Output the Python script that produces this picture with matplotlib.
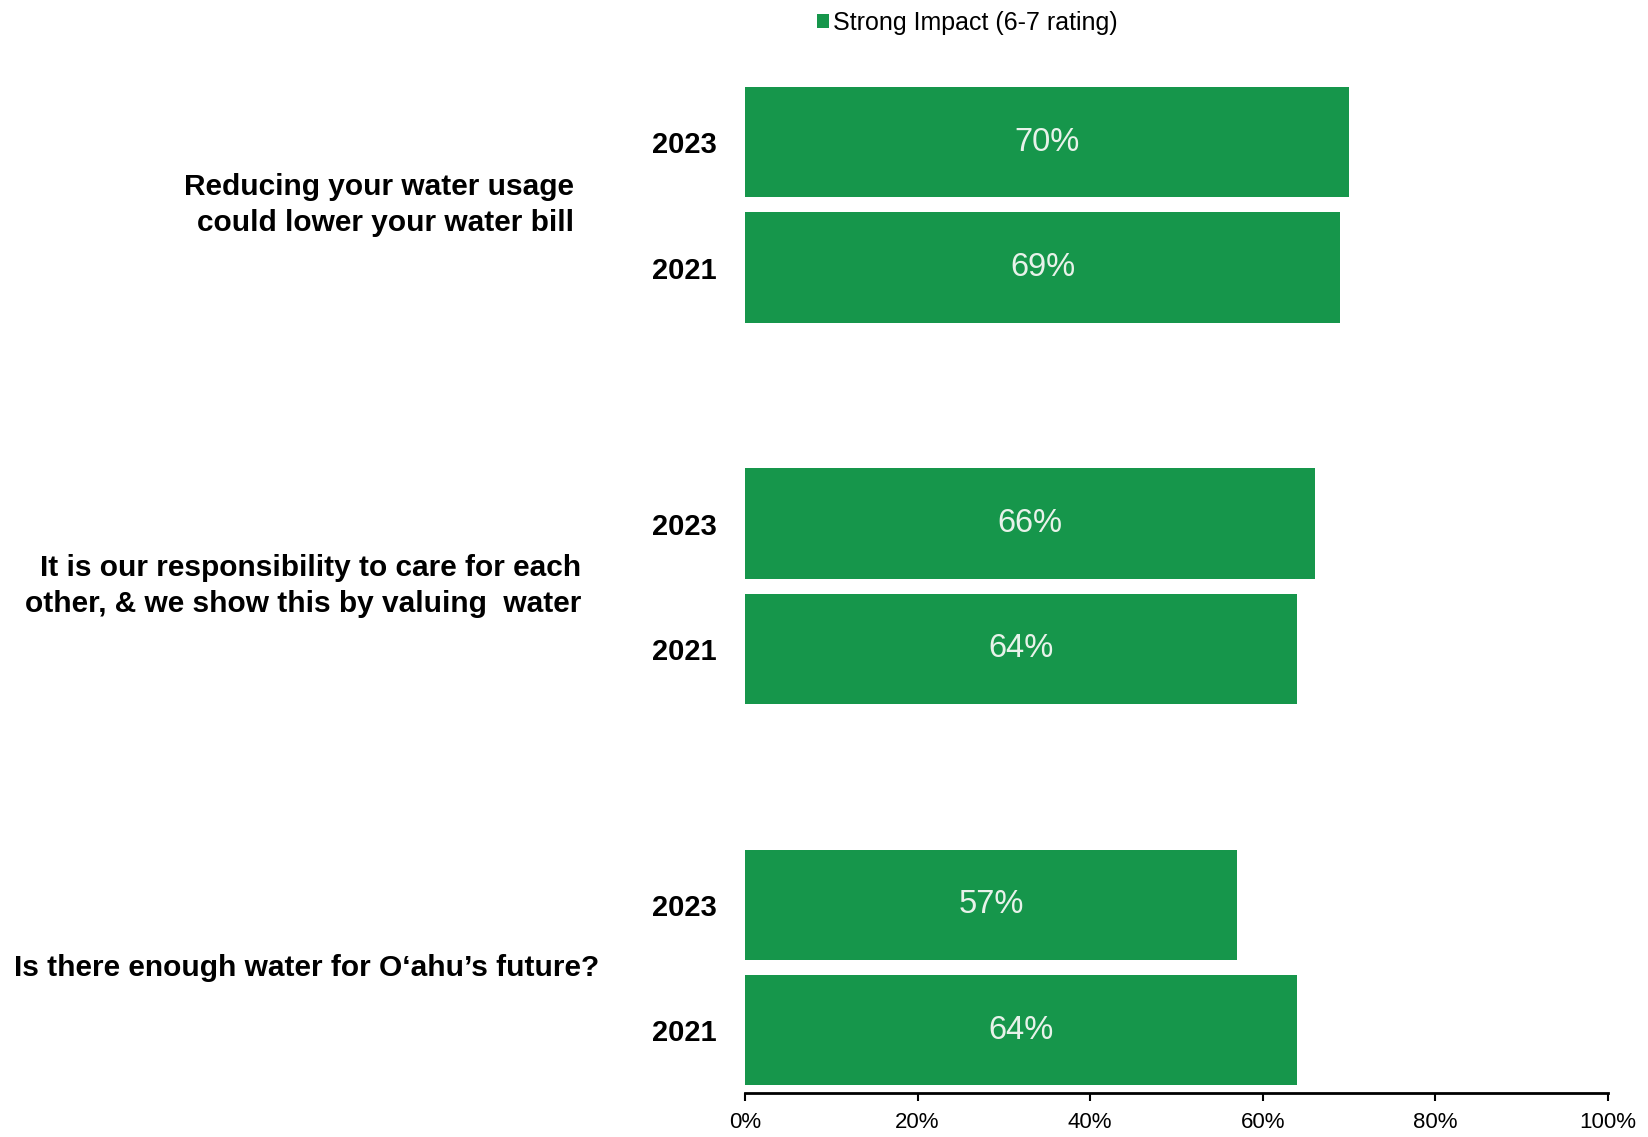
import matplotlib

matplotlib.use("Agg")

import matplotlib.pyplot as plt
import matplotlib.transforms as mtransforms
import numpy as np

plt.rcParams["font.family"] = ["Liberation Sans", "DejaVu Sans"]

statements = [
    "Reducing your water usage\ncould lower your water bill",
    "It is our responsibility to care for each\nother, & we show this by valuing  water",
    "Is there enough water for O\u2018ahu\u2019s future?",
]
years = ["2023", "2021"]
strong_2023 = [70, 66, 57]
strong_2021 = [69, 64, 64]
legend_label = "Strong Impact (6-7 rating)"
xticks = [0, 20, 40, 60, 80, 100]

# layout
green = "#16964b"
group_step = 3.04
label_right = [-0.198, -0.190, -0.169]  # right edge of each statement, axes coords

fig = plt.figure(figsize=(16.48, 11.37), dpi=100)
ax = fig.add_axes([0.452, 0.0387, 0.5237, 0.919])

base = np.arange(len(statements)) * group_step
pos_2023 = base
pos_2021 = base + 1.0

bars23 = ax.barh(pos_2023, strong_2023, height=0.88, color=green, label=legend_label)
bars21 = ax.barh(pos_2021, strong_2021, height=0.88, color=green)

for bars, vals in [(bars23, strong_2023), (bars21, strong_2021)]:
    ax.bar_label(bars, labels=[f"{v}%" for v in vals], label_type="center",
                 color="#e8f2ea", fontsize=23.5)

ypos = np.concatenate([pos_2023, pos_2021])
ylab = [years[0]] * len(base) + [years[1]] * len(base)
ax.set_yticks(ypos)
ax.set_yticklabels(ylab, fontsize=21, fontweight="bold")
ax.tick_params(axis="y", length=0, pad=20)

trans = mtransforms.blended_transform_factory(ax.transAxes, ax.transData)
for b, s, xr in zip(base, statements, label_right):
    ax.text(xr, b + 0.5, s, transform=trans, ha="right", va="center",
            fontsize=21.5, fontweight="bold", linespacing=1.38)

ax.set_xlim(0, 100)
ax.set_ylim(base[-1] + 1.0 + 0.5, -0.75)
ax.set_xticks(xticks)
ax.set_xticklabels([f"{t}%" for t in xticks], fontsize=16)
ax.tick_params(axis="x", length=6, width=1.5, pad=8, direction="out")

for sp in ["top", "right", "left"]:
    ax.spines[sp].set_visible(False)
ax.spines["bottom"].set_linewidth(2)

ax.legend(loc="center", bbox_to_anchor=(0.587, 0.980), bbox_transform=fig.transFigure,
          frameon=False, fontsize=18, handlelength=0.5, handleheight=0.5,
          handletextpad=0.15, borderpad=0)

fig.savefig("out.png", dpi=100, facecolor="white")
